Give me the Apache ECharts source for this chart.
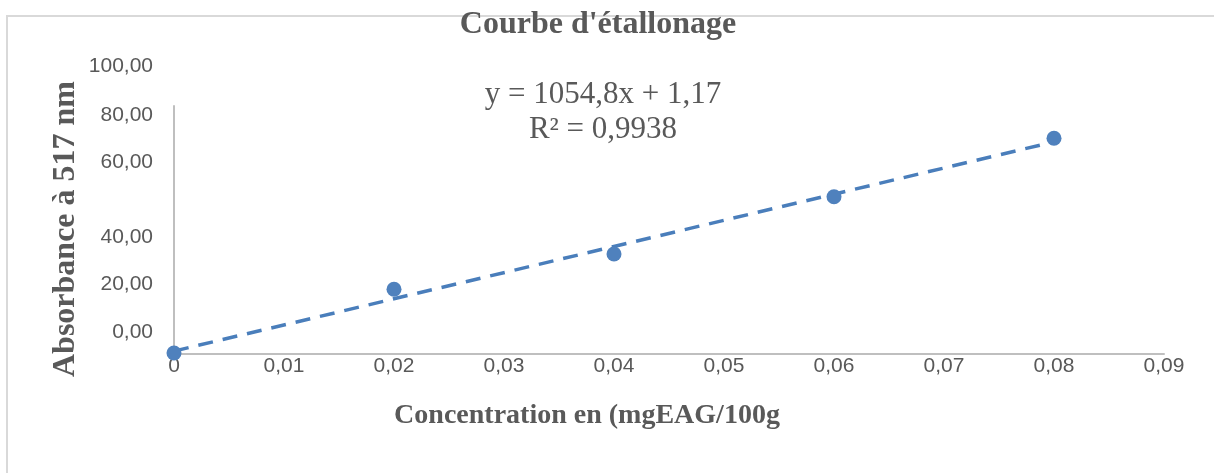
<!DOCTYPE html>
<html>
<head>
<meta charset="utf-8">
<script src="https://cdn.jsdelivr.net/npm/echarts@6/dist/echarts.min.js"></script>
<style>html,body{margin:0;padding:0;background:#fff}#c{width:1214px;height:473px}</style>
</head>
<body>
<div id="c"></div>
<script>
// Data
const concentrations = [0, 0.02, 0.04, 0.06, 0.08];
const absorbances = [0.4, 26.1, 40.3, 63.4, 87.0];
const trendX = [0, 0.08];
const trendY = [1.17, 85.55];
const yTickLabels = ['100,00', '80,00', '60,00', '40,00', '20,00', '0,00'];
const yTickLabelY = [66, 115, 162, 237, 284, 332];
const titleText = "Courbe d'étallonage";
const equationLines = ['y = 1054,8x + 1,17', 'R² = 0,9938'];
const xAxisTitle = 'Concentration en (mgEAG/100g';
const yAxisTitle = 'Absorbance à 517 nm';

const chart = echarts.init(document.getElementById('c'), null, {renderer: 'canvas'});
const textColor = '#595959';
const serif = "'Liberation Serif', 'Times New Roman', serif";
const sans = "'Liberation Sans', Arial, sans-serif";

const graphics = [
  {type: 'rect', z: 0, shape: {x: 7, y: 16, width: 1230, height: 500},
   style: {fill: 'none', stroke: '#d9d9d9', lineWidth: 2}},
  {type: 'text', x: 598, y: 25, style: {text: titleText, align: 'center', verticalAlign: 'middle',
   font: 'bold 32px ' + serif, fill: textColor}},
  {type: 'text', x: 603, y: 95, style: {text: equationLines[0], align: 'center', verticalAlign: 'middle',
   font: '31px ' + serif, fill: textColor}},
  {type: 'text', x: 603, y: 130, style: {text: equationLines[1], align: 'center', verticalAlign: 'middle',
   font: '31px ' + serif, fill: textColor}},
  {type: 'text', x: 587, y: 416, style: {text: xAxisTitle, align: 'center', verticalAlign: 'middle',
   font: 'bold 28px ' + serif, fill: textColor}},
  {type: 'text', x: 66, y: 229, rotation: Math.PI / 2, style: {text: yAxisTitle, align: 'center', verticalAlign: 'middle',
   font: 'bold 32px ' + serif, fill: textColor}}
];
yTickLabels.forEach((t, i) => {
  graphics.push({type: 'text', x: 153, y: yTickLabelY[i], style: {text: t, align: 'right', verticalAlign: 'middle',
    font: '21px ' + sans, fill: textColor}});
});

chart.setOption({
  animation: false,
  backgroundColor: '#fff',
  grid: {left: 174, right: 50, top: 106, bottom: 119, containLabel: false},
  xAxis: {
    type: 'value', min: 0, max: 0.09, interval: 0.01,
    axisLine: {show: true, lineStyle: {color: '#bfbfbf', width: 2}},
    axisTick: {show: false},
    splitLine: {show: false},
    axisLabel: {
      margin: 2, color: textColor, fontSize: 21, fontFamily: sans,
      formatter: v => (Math.abs(v) < 1e-9 ? '0' : v.toFixed(2).replace('.', ','))
    }
  },
  yAxis: {
    type: 'value', min: 0, max: 100, interval: 20,
    axisLine: {show: true, lineStyle: {color: '#bfbfbf', width: 2}},
    axisTick: {show: false},
    splitLine: {show: false},
    axisLabel: {show: false}
  },
  series: [
    {
      type: 'line', z: 2,
      data: trendX.map((x, i) => [x, trendY[i]]),
      symbol: 'none',
      lineStyle: {color: '#4a7ebb', width: 3.5, type: [15, 10]}
    },
    {
      type: 'scatter', z: 3,
      data: concentrations.map((x, i) => [x, absorbances[i]]),
      symbolSize: 15,
      itemStyle: {color: '#4f81bd', opacity: 1}
    }
  ],
  graphic: graphics
});
</script>
</body>
</html>
